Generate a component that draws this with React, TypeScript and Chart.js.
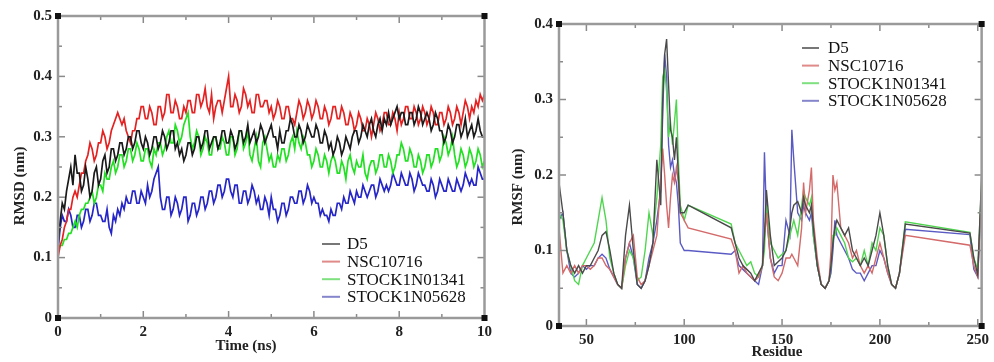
import { useEffect, useRef } from 'react';
import { Chart, registerables } from 'chart.js';
Chart.register(...registerables);

const SERIES_NAMES = ['D5', 'NSC10716', 'STOCK1N01341', 'STOCK1N05628'];

// ---- Left panel: RMSD vs time (ns), sampled every 0.05 ns ----
const TIME = Array.from({ length: 201 }, (_, i) => +(i * 0.05).toFixed(2));
const RMSD_D5 = [
  0.12, 0.16, 0.19, 0.18, 0.21, 0.23, 0.25, 0.22, 0.27, 0.24, 0.24, 0.21, 0.22, 0.25, 0.23, 0.20, 0.21, 0.24, 0.25, 0.22,
  0.23, 0.26, 0.27, 0.24, 0.25, 0.28, 0.28, 0.26, 0.27, 0.29, 0.29, 0.27, 0.28, 0.30, 0.30, 0.28, 0.29, 0.31, 0.31, 0.29,
  0.28, 0.30, 0.29, 0.27, 0.28, 0.30, 0.30, 0.28, 0.29, 0.31, 0.30, 0.28, 0.29, 0.31, 0.31, 0.28, 0.29, 0.27, 0.28, 0.26,
  0.27, 0.29, 0.29, 0.27, 0.28, 0.30, 0.30, 0.28, 0.29, 0.31, 0.31, 0.28, 0.29, 0.30, 0.30, 0.28, 0.29, 0.31, 0.31, 0.29,
  0.29, 0.31, 0.30, 0.28, 0.29, 0.31, 0.31, 0.29, 0.30, 0.32, 0.29, 0.30, 0.31, 0.29, 0.30, 0.32, 0.31, 0.29, 0.30, 0.31,
  0.32, 0.30, 0.30, 0.28, 0.31, 0.29, 0.29, 0.31, 0.31, 0.33, 0.32, 0.30, 0.30, 0.32, 0.31, 0.29, 0.30, 0.32, 0.31, 0.30,
  0.30, 0.32, 0.31, 0.29, 0.29, 0.31, 0.30, 0.28, 0.29, 0.27, 0.28, 0.30, 0.29, 0.27, 0.28, 0.30, 0.29, 0.28, 0.30, 0.31,
  0.31, 0.29, 0.30, 0.32, 0.31, 0.30, 0.32, 0.33, 0.31, 0.30, 0.32, 0.33, 0.31, 0.33, 0.32, 0.34, 0.32, 0.33, 0.34, 0.35,
  0.33, 0.34, 0.34, 0.32, 0.32, 0.34, 0.34, 0.32, 0.33, 0.35, 0.34, 0.32, 0.33, 0.34, 0.33, 0.31, 0.32, 0.34, 0.33, 0.31,
  0.31, 0.29, 0.30, 0.32, 0.31, 0.29, 0.30, 0.32, 0.32, 0.30, 0.31, 0.33, 0.30, 0.31, 0.32, 0.30, 0.31, 0.33, 0.31, 0.30,
  0.30,
];
const RMSD_NSC10716 = [
  0.10, 0.12, 0.13, 0.15, 0.16, 0.18, 0.18, 0.20, 0.21, 0.20, 0.22, 0.24, 0.24, 0.26, 0.27, 0.29, 0.28, 0.26, 0.27, 0.29,
  0.29, 0.31, 0.30, 0.28, 0.29, 0.31, 0.32, 0.33, 0.34, 0.33, 0.32, 0.33, 0.31, 0.30, 0.29, 0.31, 0.31, 0.33, 0.33, 0.35,
  0.35, 0.33, 0.33, 0.35, 0.34, 0.32, 0.32, 0.35, 0.35, 0.33, 0.34, 0.37, 0.37, 0.34, 0.34, 0.36, 0.35, 0.33, 0.33, 0.35,
  0.34, 0.36, 0.36, 0.34, 0.34, 0.37, 0.37, 0.35, 0.36, 0.38, 0.35, 0.34, 0.37, 0.33, 0.35, 0.36, 0.36, 0.34, 0.36, 0.38,
  0.40, 0.35, 0.35, 0.37, 0.36, 0.34, 0.35, 0.38, 0.37, 0.35, 0.36, 0.34, 0.34, 0.37, 0.37, 0.35, 0.35, 0.36, 0.36, 0.34,
  0.35, 0.33, 0.34, 0.36, 0.35, 0.33, 0.33, 0.35, 0.35, 0.33, 0.33, 0.32, 0.34, 0.36, 0.35, 0.33, 0.34, 0.36, 0.35, 0.33,
  0.34, 0.36, 0.35, 0.33, 0.33, 0.35, 0.34, 0.32, 0.33, 0.35, 0.35, 0.33, 0.33, 0.35, 0.34, 0.32, 0.32, 0.34, 0.33, 0.31,
  0.32, 0.34, 0.33, 0.31, 0.31, 0.33, 0.32, 0.30, 0.32, 0.34, 0.33, 0.31, 0.32, 0.34, 0.34, 0.32, 0.32, 0.34, 0.33, 0.31,
  0.34, 0.32, 0.33, 0.35, 0.35, 0.33, 0.33, 0.35, 0.34, 0.32, 0.33, 0.35, 0.34, 0.32, 0.33, 0.35, 0.34, 0.32, 0.32, 0.34,
  0.34, 0.32, 0.33, 0.35, 0.34, 0.32, 0.33, 0.35, 0.34, 0.32, 0.34, 0.36, 0.35, 0.33, 0.35, 0.34, 0.36, 0.35, 0.37, 0.36,
  0.37,
];
const RMSD_STOCK1N01341 = [
  0.11, 0.12, 0.12, 0.13, 0.13, 0.14, 0.14, 0.15, 0.16, 0.15, 0.17, 0.18, 0.18, 0.19, 0.19, 0.20, 0.21, 0.19, 0.20, 0.22,
  0.22, 0.21, 0.24, 0.23, 0.23, 0.25, 0.26, 0.24, 0.25, 0.27, 0.27, 0.25, 0.26, 0.28, 0.28, 0.26, 0.27, 0.29, 0.28, 0.26,
  0.26, 0.28, 0.28, 0.26, 0.25, 0.28, 0.27, 0.29, 0.29, 0.27, 0.28, 0.30, 0.31, 0.29, 0.29, 0.32, 0.31, 0.29, 0.30, 0.32,
  0.33, 0.34, 0.30, 0.28, 0.29, 0.31, 0.30, 0.27, 0.28, 0.30, 0.29, 0.27, 0.27, 0.30, 0.30, 0.28, 0.28, 0.30, 0.29, 0.27,
  0.27, 0.30, 0.30, 0.27, 0.28, 0.31, 0.31, 0.28, 0.29, 0.31, 0.27, 0.26, 0.28, 0.30, 0.26, 0.25, 0.29, 0.30, 0.28, 0.26,
  0.27, 0.25, 0.25, 0.27, 0.26, 0.28, 0.28, 0.26, 0.27, 0.29, 0.30, 0.28, 0.31, 0.29, 0.28, 0.30, 0.29, 0.27, 0.27, 0.25,
  0.26, 0.28, 0.27, 0.25, 0.25, 0.27, 0.26, 0.24, 0.26, 0.27, 0.26, 0.24, 0.24, 0.26, 0.25, 0.23, 0.26, 0.27, 0.25, 0.24,
  0.26, 0.25, 0.25, 0.27, 0.24, 0.23, 0.25, 0.26, 0.26, 0.24, 0.25, 0.27, 0.27, 0.25, 0.25, 0.27, 0.26, 0.24, 0.25, 0.27,
  0.27, 0.29, 0.28, 0.26, 0.26, 0.28, 0.27, 0.25, 0.25, 0.27, 0.26, 0.24, 0.25, 0.27, 0.27, 0.25, 0.26, 0.28, 0.28, 0.26,
  0.27, 0.30, 0.29, 0.27, 0.28, 0.30, 0.27, 0.25, 0.26, 0.28, 0.27, 0.25, 0.26, 0.28, 0.27, 0.25, 0.26, 0.28, 0.27, 0.25,
  0.26,
];
const RMSD_STOCK1N05628 = [
  0.11, 0.15, 0.17, 0.16, 0.16, 0.18, 0.17, 0.15, 0.15, 0.17, 0.17, 0.15, 0.16, 0.18, 0.18, 0.16, 0.17, 0.19, 0.19, 0.17,
  0.17, 0.16, 0.16, 0.18, 0.15, 0.14, 0.17, 0.16, 0.18, 0.17, 0.19, 0.18, 0.20, 0.19, 0.19, 0.21, 0.21, 0.19, 0.19, 0.21,
  0.20, 0.19, 0.22, 0.20, 0.21, 0.23, 0.24, 0.25, 0.20, 0.18, 0.18, 0.20, 0.20, 0.17, 0.18, 0.20, 0.19, 0.17, 0.18, 0.20,
  0.20, 0.16, 0.17, 0.19, 0.19, 0.17, 0.18, 0.20, 0.20, 0.18, 0.19, 0.21, 0.21, 0.19, 0.20, 0.22, 0.22, 0.20, 0.21, 0.23,
  0.23, 0.21, 0.20, 0.22, 0.22, 0.19, 0.19, 0.21, 0.21, 0.19, 0.20, 0.22, 0.21, 0.19, 0.20, 0.18, 0.18, 0.20, 0.19, 0.17,
  0.20, 0.18, 0.18, 0.16, 0.17, 0.19, 0.19, 0.17, 0.18, 0.20, 0.20, 0.19, 0.19, 0.21, 0.21, 0.19, 0.20, 0.22, 0.21, 0.19,
  0.20, 0.19, 0.19, 0.17, 0.18, 0.17, 0.17, 0.16, 0.18, 0.17, 0.17, 0.19, 0.19, 0.18, 0.20, 0.19, 0.19, 0.21, 0.20, 0.19,
  0.21, 0.20, 0.20, 0.22, 0.21, 0.20, 0.21, 0.22, 0.22, 0.20, 0.21, 0.23, 0.22, 0.21, 0.22, 0.21, 0.22, 0.24, 0.23, 0.22,
  0.22, 0.24, 0.23, 0.22, 0.22, 0.24, 0.23, 0.21, 0.22, 0.24, 0.23, 0.22, 0.22, 0.21, 0.21, 0.23, 0.22, 0.20, 0.21, 0.23,
  0.22, 0.21, 0.21, 0.23, 0.22, 0.21, 0.21, 0.23, 0.22, 0.21, 0.22, 0.24, 0.23, 0.22, 0.23, 0.22, 0.22, 0.25, 0.24, 0.23,
  0.23,
];
const RMSD_X_TICKS = [0, 2, 4, 6, 8, 10];
const RMSD_X_MINOR = [1, 3, 5, 7, 9];
const RMSD_Y_TICKS = [0, 0.1, 0.2, 0.3, 0.4, 0.5];
const RMSD_Y_MINOR = [0.05, 0.15, 0.25, 0.35, 0.45];

// ---- Right panel: RMSF vs residue ----
const RESIDUE = [
  36, 38, 40, 42, 44, 46, 48, 50, 52, 54, 56, 58, 60, 62, 64, 66, 68, 70, 72, 74,
  76, 78, 80, 82, 84, 86, 88, 89, 90, 91, 92, 93, 94, 95, 96, 97, 98, 100, 102, 124,
  126, 128, 130, 132, 134, 136, 138, 140, 141, 142, 144, 146, 148, 150, 152, 154, 155, 156, 158, 160,
  161, 162, 164, 165, 166, 168, 170, 172, 174, 175, 176, 177, 178, 180, 182, 184, 186, 188, 190, 192,
  194, 196, 198, 200, 202, 204, 206, 208, 210, 213, 246, 248, 250, 252,
];
const RMSF_D5 = [
  0.19, 0.15, 0.10, 0.08, 0.07, 0.08, 0.07, 0.08, 0.08, 0.09, 0.10, 0.12, 0.125, 0.10, 0.07, 0.055, 0.05, 0.12, 0.16, 0.10,
  0.055, 0.05, 0.06, 0.08, 0.11, 0.22, 0.16, 0.30, 0.36, 0.38, 0.32, 0.26, 0.25, 0.22, 0.25, 0.20, 0.15, 0.15, 0.16, 0.13,
  0.11, 0.09, 0.08, 0.075, 0.07, 0.06, 0.07, 0.08, 0.12, 0.18, 0.12, 0.08, 0.085, 0.09, 0.10, 0.13, 0.15, 0.16, 0.165, 0.15,
  0.17, 0.16, 0.15, 0.16, 0.13, 0.08, 0.055, 0.05, 0.06, 0.08, 0.11, 0.13, 0.14, 0.13, 0.12, 0.13, 0.10, 0.09, 0.08, 0.09,
  0.08, 0.10, 0.12, 0.15, 0.12, 0.08, 0.055, 0.05, 0.07, 0.135, 0.123, 0.09, 0.068, 0.20,
];
const RMSF_NSC10716 = [
  0.13, 0.07, 0.08, 0.07, 0.08, 0.07, 0.08, 0.08, 0.075, 0.08, 0.09, 0.09, 0.08, 0.075, 0.065, 0.055, 0.05, 0.09, 0.11, 0.12,
  0.065, 0.055, 0.06, 0.08, 0.10, 0.12, 0.19, 0.235, 0.20, 0.16, 0.13, 0.17, 0.20, 0.19, 0.21, 0.19, 0.15, 0.14, 0.13, 0.115,
  0.10, 0.07, 0.08, 0.07, 0.065, 0.06, 0.065, 0.08, 0.12, 0.15, 0.09, 0.065, 0.06, 0.07, 0.09, 0.09, 0.095, 0.09, 0.08, 0.13,
  0.19, 0.15, 0.18, 0.21, 0.14, 0.09, 0.055, 0.05, 0.06, 0.10, 0.20, 0.18, 0.19, 0.13, 0.12, 0.11, 0.09, 0.10, 0.08, 0.07,
  0.08, 0.07, 0.09, 0.11, 0.09, 0.07, 0.055, 0.05, 0.07, 0.12, 0.107, 0.08, 0.065, 0.18,
];
const RMSF_STOCK1N01341 = [
  0.15, 0.14, 0.10, 0.08, 0.06, 0.055, 0.08, 0.09, 0.10, 0.11, 0.14, 0.17, 0.14, 0.09, 0.07, 0.055, 0.05, 0.08, 0.10, 0.09,
  0.06, 0.065, 0.10, 0.15, 0.12, 0.17, 0.24, 0.33, 0.34, 0.31, 0.25, 0.27, 0.24, 0.27, 0.30, 0.22, 0.16, 0.14, 0.16, 0.135,
  0.11, 0.10, 0.09, 0.08, 0.085, 0.07, 0.065, 0.08, 0.10, 0.16, 0.11, 0.10, 0.09, 0.095, 0.10, 0.12, 0.13, 0.14, 0.12, 0.16,
  0.18, 0.17, 0.16, 0.17, 0.12, 0.08, 0.055, 0.05, 0.06, 0.08, 0.12, 0.12, 0.13, 0.12, 0.11, 0.09, 0.085, 0.09, 0.08, 0.10,
  0.08, 0.11, 0.10, 0.13, 0.12, 0.08, 0.055, 0.05, 0.07, 0.138, 0.124, 0.09, 0.075, 0.19,
];
const RMSF_STOCK1N05628 = [
  0.14, 0.15, 0.10, 0.07, 0.065, 0.07, 0.08, 0.075, 0.08, 0.08, 0.09, 0.095, 0.09, 0.075, 0.065, 0.055, 0.05, 0.09, 0.11, 0.09,
  0.055, 0.05, 0.06, 0.09, 0.11, 0.14, 0.18, 0.28, 0.36, 0.33, 0.24, 0.21, 0.22, 0.20, 0.19, 0.16, 0.11, 0.10, 0.10, 0.095,
  0.10, 0.08, 0.075, 0.07, 0.065, 0.06, 0.055, 0.08, 0.23, 0.15, 0.09, 0.07, 0.08, 0.08, 0.14, 0.12, 0.26, 0.22, 0.15, 0.14,
  0.16, 0.15, 0.14, 0.15, 0.12, 0.08, 0.055, 0.05, 0.06, 0.07, 0.10, 0.14, 0.12, 0.11, 0.10, 0.09, 0.075, 0.07, 0.07, 0.06,
  0.07, 0.08, 0.08, 0.10, 0.09, 0.07, 0.055, 0.05, 0.07, 0.128, 0.121, 0.075, 0.065, 0.18,
];
const RMSF_X_TICKS = [50, 100, 150, 200, 250];
const RMSF_X_MINOR = [75, 125, 175, 225];
const RMSF_Y_TICKS = [0, 0.1, 0.2, 0.3, 0.4];
const RMSF_Y_MINOR = [0.05, 0.15, 0.25, 0.35];

const SERIF = '"Liberation Serif", "Times New Roman", Times, serif';

const framePlugin = {
  id: 'frame',
  afterDatasetsDraw(chart: any, _args: any, o: any) {
    const { ctx, chartArea: ca, scales } = chart;
    const xs = scales.x;
    const ys = scales.y;
    ctx.save();
    const line = (x1: number, y1: number, x2: number, y2: number) => {
      ctx.beginPath();
      ctx.moveTo(x1, y1);
      ctx.lineTo(x2, y2);
      ctx.stroke();
    };
    ctx.strokeStyle = o.tickColor;
    ctx.lineWidth = 1.5;
    const xTicks = (vals: number[], len: number) => {
      for (const v of vals) {
        const p = xs.getPixelForValue(v);
        if (p <= ca.left + 1 || p >= ca.right - 1) continue;
        line(p, ca.bottom, p, ca.bottom - len);
        line(p, ca.top, p, ca.top + len);
      }
    };
    const yTicks = (vals: number[], len: number) => {
      for (const v of vals) {
        const p = ys.getPixelForValue(v);
        if (p <= ca.top + 1 || p >= ca.bottom - 1) continue;
        line(ca.left, p, ca.left + len, p);
        line(ca.right, p, ca.right - len, p);
      }
    };
    xTicks(o.xMajor, 7);
    xTicks(o.xMinor, 4);
    yTicks(o.yMajor, 7);
    yTicks(o.yMinor, 4);
    ctx.strokeStyle = o.frameColor;
    ctx.lineWidth = 2.5;
    ctx.strokeRect(ca.left, ca.top, ca.right - ca.left, ca.bottom - ca.top);
    ctx.fillStyle = '#111';
    for (const [cx, cy] of [[ca.left, ca.top], [ca.right, ca.top], [ca.left, ca.bottom], [ca.right, ca.bottom]]) {
      ctx.fillRect(cx - 3, cy - 3, 6, 6);
    }
    // legend
    const lg = o.legend;
    ctx.font = `17px ${SERIF}`;
    ctx.textBaseline = 'middle';
    ctx.textAlign = 'left';
    chart.data.datasets.forEach((ds: any, i: number) => {
      const y = lg.y + i * lg.dy;
      ctx.strokeStyle = lg.colors[i];
      ctx.lineWidth = 2;
      line(lg.x1, y, lg.x2, y);
      ctx.fillStyle = '#111';
      ctx.fillText(ds.label, lg.tx, y + 1);
    });
    // axis titles
    ctx.fillStyle = '#222';
    ctx.font = `bold 15px ${SERIF}`;
    ctx.textAlign = 'center';
    ctx.fillText(o.xTitle.text, o.xTitle.x, o.xTitle.y);
    ctx.save();
    ctx.translate(o.yTitle.x, o.yTitle.y);
    ctx.rotate(-Math.PI / 2);
    ctx.fillText(o.yTitle.text, 0, 0);
    ctx.restore();
    ctx.restore();
  },
};

function makeConfig(p: any) {
  return {
    type: 'line',
    data: {
      datasets: p.series.map((s: number[], i: number) => ({
        label: SERIES_NAMES[i],
        data: p.xs.map((x: number, j: number) => ({ x, y: s[j] })),
        borderColor: p.colors[i],
        borderWidth: p.lineWidth,
        pointRadius: 0,
        tension: 0,
        fill: false,
      })),
    },
    options: {
      responsive: false,
      animation: false,
      devicePixelRatio: 1,
      layout: { padding: { top: p.padTop, right: p.padRight, left: 0, bottom: 0 } },
      plugins: {
        legend: { display: false },
        tooltip: { enabled: false },
        frame: p.frame,
      },
      scales: {
        x: {
          type: 'linear',
          min: p.xMin,
          max: p.xMax,
          grid: { display: false, drawTicks: false },
          border: { display: false },
          afterBuildTicks: (s: any) => { s.ticks = p.xTicks.map((v: number) => ({ value: v })); },
          afterFit: (s: any) => { s.height = p.xAxisH; },
          ticks: { font: { family: SERIF, size: 15, weight: 'bold' }, color: '#222', padding: 5, maxRotation: 0, autoSkip: false },
        },
        y: {
          type: 'linear',
          min: p.yMin,
          max: p.yMax,
          grid: { display: false, drawTicks: false },
          border: { display: false },
          afterBuildTicks: (s: any) => { s.ticks = p.yTicks.map((v: number) => ({ value: v })); },
          afterFit: (s: any) => { s.width = p.yAxisW; },
          ticks: { font: { family: SERIF, size: 15, weight: 'bold' }, color: '#222', padding: 6, autoSkip: false,
            callback: (v: number) => String(+v.toFixed(2)) },
        },
      },
    },
    plugins: [framePlugin],
  };
}

function Panel({ cfg, left }: { cfg: any; left: number }) {
  const ref = useRef<HTMLCanvasElement>(null);
  useEffect(() => {
    const chart = new Chart(ref.current as HTMLCanvasElement, makeConfig(cfg) as any);
    return () => chart.destroy();
  }, []);
  return (
    <canvas ref={ref} width={497} height={362}
      style={{ position: 'absolute', left, top: 0, width: 497, height: 362 }} />
  );
}

const leftCfg = {
  xs: TIME,
  series: [RMSD_D5, RMSD_NSC10716, RMSD_STOCK1N01341, RMSD_STOCK1N05628],
  colors: ['#1a1a1a', '#e42222', '#22e022', '#2525c8'],
  lineWidth: 1.7,
  xMin: 0, xMax: 10, yMin: 0, yMax: 0.5,
  xTicks: RMSD_X_TICKS, yTicks: RMSD_Y_TICKS,
  padTop: 16, padRight: 6, yAxisW: 58, xAxisH: 44,
  frame: {
    tickColor: '#8a8a8a', frameColor: '#9a9a9a',
    xMajor: RMSD_X_TICKS, xMinor: RMSD_X_MINOR, yMajor: RMSD_Y_TICKS, yMinor: RMSD_Y_MINOR,
    legend: { x1: 322, x2: 340, tx: 347, y: 244, dy: 17.6, colors: ['#777777', '#e08a8a', '#7ee07e', '#8585cc'] },
    xTitle: { text: 'Time (ns)', x: 246, y: 346 },
    yTitle: { text: 'RMSD (nm)', x: 20, y: 186 },
  },
};

const rightCfg = {
  xs: RESIDUE,
  series: [RMSF_D5, RMSF_NSC10716, RMSF_STOCK1N01341, RMSF_STOCK1N05628],
  colors: ['#4a4a4a', '#d46a6a', '#4fd64f', '#5a5ac4'],
  lineWidth: 1.4,
  xMin: 36, xMax: 252, yMin: 0, yMax: 0.4,
  xTicks: RMSF_X_TICKS, yTicks: RMSF_Y_TICKS,
  padTop: 24, padRight: 3, yAxisW: 62, xAxisH: 36,
  frame: {
    tickColor: '#8a8a8a', frameColor: '#9a9a9a',
    xMajor: RMSF_X_TICKS, xMinor: RMSF_X_MINOR, yMajor: RMSF_Y_TICKS, yMinor: RMSF_Y_MINOR,
    legend: { x1: 305, x2: 322, tx: 331, y: 48, dy: 17.6, colors: ['#777777', '#e08a8a', '#7ee07e', '#8585cc'] },
    xTitle: { text: 'Residue', x: 280, y: 352 },
    yTitle: { text: 'RMSF (nm)', x: 21, y: 187 },
  },
};

export default function App() {
  return (
    <div style={{ position: 'absolute', left: 0, top: 0, width: 994, height: 362, background: '#fff', overflow: 'hidden' }}>
      <Panel cfg={leftCfg} left={0} />
      <Panel cfg={rightCfg} left={497} />
    </div>
  );
}
